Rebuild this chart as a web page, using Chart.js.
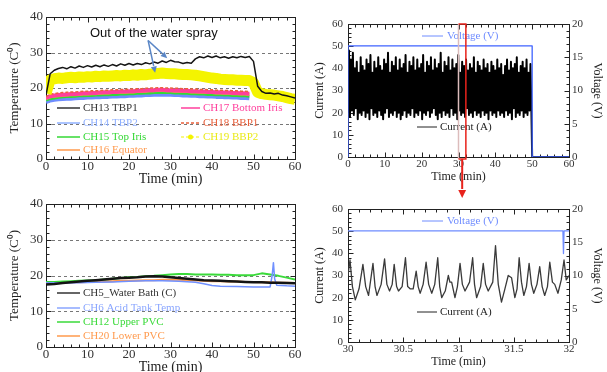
<!DOCTYPE html>
<html lang="en">
<head>
<meta charset="UTF-8">
<title>Cavity temperatures, current and voltage</title>
<script src="https://cdn.jsdelivr.net/npm/chart.js"></script>
<style>
    html, body { margin: 0; padding: 0; background: #fff; overflow: hidden; }
    body { width: 607px; height: 372px; position: relative; }
    canvas { position: absolute; }
</style>
</head>
<body>
<canvas id="tl" width="310" height="190" style="left:0;top:0;width:310px;height:190px"></canvas>
<canvas id="bl" width="310" height="190" style="left:0;top:190px;width:310px;height:190px"></canvas>
<canvas id="br" width="307" height="190" style="left:300px;top:190px;width:307px;height:190px"></canvas>
<canvas id="tr" width="307" height="205" style="left:300px;top:0;width:307px;height:205px"></canvas>

<script>
const SERIF = "'Liberation Serif', 'Times New Roman', serif";

// ---- top left: cavity temperatures, one sample per minute
const minutes = Array.from({length: 61}, (_, i) => i);
const ch13 = [18, 24, 25, 25.5, 25.8, 25.4, 26, 25.6, 26.2, 25.8, 26.3, 25.9, 26.4, 26, 26.5, 26.1, 26.6, 26.2, 26.8, 26.4,
              26.9, 26.5, 26.9, 26.6, 27.1, 26.8, 27.3, 27, 27.6, 27.2, 27.8, 27.4, 27.3, 26.9, 27.2, 27, 28.2, 28.8, 28.5, 29,
              28.6, 29, 28.5, 28.8, 28.4, 28.8, 28.5, 28.9, 28.6, 28.9, 27.5, 20.5, 19, 18.5, 18.6, 18.3, 18.5, 18, 17.8, 17.5, 17.2];
const ch19 = [18.5, 22.3, 22.6, 22.8, 22.7, 22.9, 23, 22.9, 23.1, 23, 23.2, 23.1, 23.3, 23.2, 23.4, 23.3, 23.4, 23.5, 23.4, 23.6,
              23.5, 23.7, 23.6, 23.8, 23.7, 23.9, 24, 24.1, 24.2, 24.1, 24, 24, 23.9, 23.8, 23.8, 23.7, 23.6, 23.4, 23.2, 23,
              22.8, 22.7, 22.5, 22.4, 22.3, 22.3, 22.2, 22.2, 22.1, 22.1, 21.5, 18.8, 18.4, 18.2, 18.1, 18, 17.8, 17.6, 17.3, 17, 16.8];
const ch14 = [16, 16.5, 16.7, 16.8, 16.9, 17, 17, 17.1, 17.2, 17.2, 17.3, 17.3, 17.4, 17.4, 17.5, 17.5, 17.6, 17.6, 17.7, 17.7,
              17.8, 17.8, 17.9, 17.9, 18, 18, 18.1, 18.1, 18.2, 18.1, 18.1, 18, 18, 17.9, 17.9, 17.8, 17.8, 17.7, 17.7, 17.6,
              17.6, 17.5, 17.5, 17.4, 17.4, 17.3, 17.3, 17.2, 17.2, 17.1];
const ch15 = [16.6, 17, 17.2, 17.4, 17.5, 17.6, 17.6, 17.7, 17.8, 17.8, 17.9, 17.9, 18, 18, 18.1, 18.1, 18.2, 18.2, 18.3, 18.3,
              18.4, 18.4, 18.5, 18.5, 18.6, 18.6, 18.7, 18.7, 18.8, 18.7, 18.7, 18.6, 18.6, 18.5, 18.5, 18.4, 18.4, 18.3, 18.3, 18.2,
              18.2, 18.1, 18.1, 18, 18, 17.9, 17.9, 17.8, 17.8, 17.7];
const ch16 = [17, 17.5, 17.7, 17.8, 17.9, 18, 18.1, 18.1, 18.2, 18.3, 18.3, 18.4, 18.4, 18.5, 18.6, 18.6, 18.7, 18.7, 18.8, 18.8,
              18.9, 18.9, 19, 19, 19.1, 19.2, 19.2, 19.3, 19.3, 19.2, 19.2, 19.1, 19.1, 19, 19, 18.9, 18.9, 18.8, 18.8, 18.7,
              18.7, 18.6, 18.6, 18.5, 18.5, 18.4, 18.4, 18.3, 18.3, 18.2];
const ch17 = [17.2, 17.7, 17.9, 18, 18.1, 18.2, 18.3, 18.3, 18.4, 18.5, 18.5, 18.6, 18.6, 18.7, 18.8, 18.8, 18.9, 18.9, 19, 19,
              19.1, 19.1, 19.2, 19.2, 19.3, 19.4, 19.4, 19.5, 19.5, 19.4, 19.4, 19.3, 19.3, 19.2, 19.2, 19.1, 19.1, 19, 19, 18.9,
              18.9, 18.8, 18.8, 18.7, 18.7, 18.6, 18.6, 18.5, 18.5, 18.4];
const ch18 = [17.6, 18.2, 18.4, 18.6, 18.7, 18.8, 18.9, 18.9, 19, 19.1, 19.1, 19.2, 19.2, 19.3, 19.4, 19.4, 19.5, 19.5, 19.6, 19.6,
              19.7, 19.7, 19.8, 19.8, 19.9, 20, 20, 20.1, 20.1, 20, 20, 19.9, 19.9, 19.8, 19.8, 19.7, 19.7, 19.6, 19.6, 19.5,
              19.5, 19.4, 19.4, 19.3, 19.3, 19.2, 19.2, 19.1, 19.1, 19];

// ---- bottom left: bath, tank and PVC temperatures
const bathT = [0, 2, 4, 6, 8, 10, 12, 14, 16, 18, 20, 22, 24, 26, 28, 30, 32, 34, 36, 38, 40, 42, 44, 46, 48, 50, 52, 54, 56, 58, 60];
const ch5  = [17.5, 17.6, 17.9, 18.1, 18.3, 18.5, 18.7, 18.9, 19.1, 19.3, 19.4, 19.5, 19.7, 19.8, 19.7, 19.5, 19.3, 19.1, 18.9, 18.7,
              18.6, 18.5, 18.4, 18.3, 18.2, 18.1, 18.1, 18, 18, 17.9, 17.8];
const ch12 = [18.2, 18.2, 18.3, 18.4, 18.5, 18.6, 18.7, 18.9, 19.1, 19.3, 19.5, 19.6, 19.8, 19.9, 20.1, 20.3, 20.4, 20.4, 20.3, 20.3,
              20.3, 20.2, 20.2, 20.1, 20.1, 20.1, 20.6, 20.3, 19.9, 19.4, 18.9];
const ch20 = [17.8, 17.9, 18, 18.1, 18.1, 18.2, 18.3, 18.3, 18.4, 18.5, 18.5, 18.6, 18.7, 18.7, 18.8, 18.8, 18.8, 18.7, 18.6, 18.5,
              18.4, 18.4, 18.3, 18.3, 18.2, 18.2, 18.1, 18.1, 18, 18, 17.9];
const acidT = [0, 4, 8, 12, 16, 20, 24, 28, 32, 36, 38, 40, 42, 46, 50, 54, 54.5, 54.8, 55.1, 55.6, 58, 60];
const ch6   = [18, 17.9, 18, 18.1, 18.2, 18.4, 18.5, 18.5, 18.4, 18.1, 17.7, 17.2, 17, 16.9, 16.8, 16.8, 20, 23.6, 19, 17.3, 17.1, 17];

// ---- top right: current and voltage over the whole run
const noiseA = [20, 48, 18, 44, 21, 47, 19, 40, 22, 43, 17, 38, 20, 45, 19, 41, 21, 39, 18, 44,
                20, 42, 17, 46, 22, 38, 19, 43, 20, 40, 18, 45, 21, 41, 19, 39, 17, 44, 20, 42,
                22, 47, 18, 38, 20, 43, 19, 41, 21, 45, 18, 39, 20, 44, 17, 40, 19, 42, 21, 46,
                18, 38, 20, 43, 19, 41, 22, 45, 18, 39, 20, 44, 19, 40, 21, 42, 17, 46, 20, 38,
                19, 43, 21, 41, 18, 45, 20, 39, 22, 44, 19, 40, 17, 42, 20, 47, 18, 38, 21, 43,
                19, 41, 20, 45, 18, 39, 22, 44, 19, 40, 20, 42, 17, 46, 21, 38, 19, 43, 20, 41,
                18, 44, 22, 39, 19, 42, 20, 40, 18, 45, 21, 38, 19, 43, 20, 41, 18, 39, 21, 44,
                19, 40, 20, 42, 17, 38, 21, 43, 19, 41, 20, 39, 18, 44, 21, 40, 19, 42, 20, 37,
                18, 41, 21, 44, 19, 39, 20, 43, 17, 40, 22, 42, 18, 45, 20, 38, 19, 41, 21, 43,
                18, 40, 20, 44, 19, 38, 21, 42, 20];
const noiseT = noiseA.map((_, i) => i * 49.8 / (noiseA.length - 1));
const tailT = [50, 60];
const tailA = [0, 0];
const voltT = [0, 0, 50, 50, 60];
const voltV = [0, 16.7, 16.7, 0, 0];

// ---- bottom right: zoom 30-32 min
const zoomT = [30, 30.018, 30.04, 30.066, 30.1, 30.135, 30.16, 30.186, 30.226, 30.245, 30.262, 30.3, 30.331, 30.352, 30.376, 30.4,
               30.418, 30.44, 30.457, 30.49, 30.52, 30.54, 30.562, 30.59, 30.617, 30.635, 30.653, 30.68, 30.707, 30.73, 30.758, 30.785,
               30.812, 30.83, 30.848, 30.88, 30.908, 30.922, 30.938, 30.968, 30.99, 31.014, 31.035, 31.059, 31.1, 31.128, 31.145, 31.164,
               31.2, 31.224, 31.245, 31.269, 31.31, 31.335, 31.36, 31.389, 31.42, 31.45, 31.48, 31.51, 31.53, 31.549, 31.57, 31.591,
               31.615, 31.639, 31.66, 31.681, 31.71, 31.735, 31.757, 31.78, 31.805, 31.826, 31.85, 31.871, 31.9, 31.93, 31.955, 31.975, 32];
const zoomA = [30, 37, 25, 19, 24, 35, 25, 21, 35.5, 25, 21, 26, 37.5, 26, 23, 26,
               35, 25, 23, 25, 38, 25, 24, 24, 32, 25, 22, 26, 36, 26, 22, 26,
               38, 25, 20, 23, 30, 27, 27, 20, 25, 35.5, 26, 23, 27, 38, 26, 20,
               25, 35.5, 26, 23, 27, 43.5, 26, 18, 24, 30, 29, 20, 24, 38, 27, 21,
               25, 35.5, 26, 22, 26, 34, 25, 21, 25, 36, 27, 26, 22, 28, 37, 28, 30];
const zoomVT = [30, 31.945, 31.95, 31.955, 32];
const zoomVV = [16.7, 16.7, 13.3, 16.7, 16.7];

function line(label, times, vals, color, width, dash, axis) {
    return {
        label: label,
        data: vals.map((v, i) => ({x: times[i], y: v})),
        borderColor: color,
        backgroundColor: color,
        borderWidth: width,
        borderDash: dash || [],
        borderJoinStyle: 'round',
        pointRadius: 0,
        tension: 0,
        fill: false,
        yAxisID: axis || 'y'
    };
}

function xAxis(min, max, step, c) {
    return {
        type: 'linear', position: 'bottom', min: min, max: max,
        ticks: {stepSize: step, font: {family: SERIF, size: c.tick}, color: '#333', padding: c.pad, maxRotation: 0, autoSkip: false,
                callback: v => String(Math.round(v * 10) / 10)},
        grid: {display: false, drawTicks: false},
        border: {display: false},
        title: {display: true, text: 'Time (min)', font: {family: SERIF, size: c.title}, color: '#222', padding: {top: 0, bottom: c.titlePad}},
        afterFit: s => { s.height = c.h; }
    };
}

function yAxis(pos, max, step, text, c) {
    return {
        type: 'linear', position: pos, min: 0, max: max,
        ticks: {stepSize: step, font: {family: SERIF, size: c.tick}, color: '#333', padding: c.pad, autoSkip: false},
        grid: {display: false, drawTicks: false},
        border: {display: false},
        title: {display: true, text: text, font: {family: SERIF, size: c.title}, color: '#222', padding: {top: c.titlePad, bottom: 0}},
        afterFit: s => { s.width = c.w; }
    };
}

// frame, inward ticks and dashed grid lines
const frame = {
    id: 'frame',
    beforeDatasetsDraw(chart, args, o) {
        const {ctx, chartArea: a, scales} = chart;
        ctx.save();
        if (o.grid) {
            ctx.strokeStyle = '#777';
            ctx.lineWidth = 1;
            ctx.setLineDash([3, 3]);
            o.grid.forEach(v => {
                const py = Math.round(scales.y.getPixelForValue(v)) + 0.5;
                ctx.beginPath();
                ctx.moveTo(a.left, py);
                ctx.lineTo(a.right, py);
                ctx.stroke();
            });
            ctx.setLineDash([]);
        }
        ctx.strokeStyle = '#222';
        ctx.lineWidth = 1;
        const L = Math.round(a.left) + 0.5, T = Math.round(a.top) + 0.5;
        const R = Math.round(a.right) + 0.5, B = Math.round(a.bottom) + 0.5;
        ctx.strokeRect(L, T, R - L, B - T);
        const marks = (scale, major, minor, fn) => {
            const n = Math.round((scale.max - scale.min) / minor);
            for (let i = 0; i <= n; i++) {
                const v = scale.min + i * minor;
                const r = v / major;
                const big = Math.abs(r - Math.round(r)) < 1e-6;
                fn(Math.round(scale.getPixelForValue(v)) + 0.5, big ? 5 : 3);
            }
        };
        ctx.beginPath();
        marks(scales.x, o.x[0], o.x[1], (p, l) => {
            ctx.moveTo(p, B); ctx.lineTo(p, B - l);
            ctx.moveTo(p, T); ctx.lineTo(p, T + l);
        });
        marks(scales.y, o.y[0], o.y[1], (p, l) => {
            ctx.moveTo(L, p); ctx.lineTo(L + l, p);
            if (!scales.y1) { ctx.moveTo(R, p); ctx.lineTo(R - l, p); }
        });
        if (scales.y1) {
            marks(scales.y1, o.y1[0], o.y1[1], (p, l) => { ctx.moveTo(R, p); ctx.lineTo(R - l, p); });
        }
        ctx.stroke();
        ctx.restore();
    }
};

// in-plot legend entries
const keys = {
    id: 'keys',
    afterDraw(chart, args, o) {
        const ctx = chart.ctx;
        ctx.save();
        ctx.font = o.font;
        ctx.textBaseline = 'middle';
        o.items.forEach(k => {
            const ds = chart.data.datasets[k.ds];
            const col = k.line || ds.borderColor;
            ctx.strokeStyle = col;
            ctx.lineWidth = k.w || 1.5;
            ctx.setLineDash(k.dash || []);
            ctx.beginPath();
            ctx.moveTo(k.x1, k.y);
            ctx.lineTo(k.x2, k.y);
            ctx.stroke();
            ctx.setLineDash([]);
            if (k.dot) {
                ctx.fillStyle = col;
                ctx.beginPath();
                ctx.arc((k.x1 + k.x2) / 2, k.y, 2.5, 0, Math.PI * 2);
                ctx.fill();
            }
            ctx.fillStyle = k.color || col;
            ctx.fillText(ds.label, k.tx, k.y);
        });
        ctx.restore();
    }
};

function arrow(ctx, x0, y0, x1, y1, head) {
    const ang = Math.atan2(y1 - y0, x1 - x0);
    ctx.beginPath();
    ctx.moveTo(x0, y0);
    ctx.lineTo(x1 - Math.cos(ang) * head, y1 - Math.sin(ang) * head);
    ctx.stroke();
    ctx.beginPath();
    ctx.moveTo(x1, y1);
    ctx.lineTo(x1 - head * Math.cos(ang - 0.45), y1 - head * Math.sin(ang - 0.45));
    ctx.lineTo(x1 - head * Math.cos(ang + 0.45), y1 - head * Math.sin(ang + 0.45));
    ctx.closePath();
    ctx.fill();
}

// annotations: "out of the water spray" arrows, zoom window marker
const notes = {
    id: 'notes',
    afterDraw(chart, args, o) {
        const {ctx, chartArea: a, scales: {x, y}} = chart;
        ctx.save();
        if (o.spray) {
            const s = o.spray;
            ctx.font = "13px 'Liberation Sans', Arial, sans-serif";
            ctx.fillStyle = '#111';
            ctx.textAlign = 'center';
            ctx.textBaseline = 'middle';
            ctx.fillText(s.text, x.getPixelForValue(s.at[0]), y.getPixelForValue(s.at[1]));
            ctx.strokeStyle = '#5a86c6';
            ctx.fillStyle = '#5a86c6';
            ctx.lineWidth = 1.5;
            const x0 = x.getPixelForValue(s.from[0]), y0 = y.getPixelForValue(s.from[1]);
            s.to.forEach(p => arrow(ctx, x0, y0, x.getPixelForValue(p[0]), y.getPixelForValue(p[1]), 7));
        }
        if (o.box) {
            const xl = x.getPixelForValue(o.box[0]), xr = x.getPixelForValue(o.box[1]);
            const bot = a.bottom + 2;
            ctx.lineWidth = 1.5;
            ctx.strokeStyle = '#dcbcbc';
            ctx.beginPath(); ctx.moveTo(xl, a.top); ctx.lineTo(xl, bot); ctx.stroke();
            ctx.strokeStyle = '#e8231c';
            ctx.fillStyle = '#e8231c';
            ctx.beginPath();
            ctx.moveTo(xl, a.top); ctx.lineTo(xr, a.top); ctx.lineTo(xr, bot); ctx.lineTo(xl, bot);
            ctx.stroke();
            ctx.lineWidth = 2;
            arrow(ctx, (xl + xr) / 2, bot, (xl + xr) / 2, o.tip, 9);
        }
        ctx.restore();
    }
};

const base = {responsive: false, animation: false, events: []};
const leftCfg = {tick: 13, title: 14, pad: 0, titlePad: 2};

// top left
new Chart(document.getElementById('tl'), {
    type: 'line',
    data: {datasets: [
        line('CH13 TBP1', minutes, ch13, '#151515', 1.5),
        line('CH19 BBP2', minutes, ch19, '#f4f400', 11),
        line('CH18 BBP1', minutes, ch18, '#e8603c', 1.5, [3, 2]),
        line('CH17 Bottom Iris', minutes, ch17, '#ff3f9c', 4),
        line('CH16 Equator', minutes, ch16, '#ff9a4d', 3),
        line('CH15 Top Iris', minutes, ch15, '#35d835', 3),
        line('CH14 TBP2', minutes, ch14, '#6e8cff', 4)
    ]},
    options: Object.assign({}, base, {
        layout: {padding: {top: 17, right: 15, left: 0, bottom: 0}},
        plugins: {
            legend: {display: false}, tooltip: {enabled: false},
            frame: {grid: [10, 20, 30], x: [10, 2], y: [10, 2]},
            keys: {font: '11px ' + SERIF, items: [
                {ds: 0, x1: 57, x2: 80, tx: 83, y: 108, line: '#333'},
                {ds: 6, x1: 57, x2: 80, tx: 83, y: 123, line: '#8fb0ff'},
                {ds: 5, x1: 57, x2: 80, tx: 83, y: 137},
                {ds: 4, x1: 57, x2: 80, tx: 83, y: 150},
                {ds: 3, x1: 181, x2: 200, tx: 203, y: 108},
                {ds: 2, x1: 181, x2: 200, tx: 203, y: 123, dash: [3, 2]},
                {ds: 1, x1: 181, x2: 200, tx: 203, y: 137, dash: [3, 2], dot: true, w: 1.2, color: '#eaea1a'}
            ]},
            notes: {spray: {text: 'Out of the water spray', at: [26, 35.4], from: [24.6, 33.4], to: [[29.2, 28.4], [26.3, 24.3]]}}
        },
        scales: {
            x: xAxis(0, 60, 10, Object.assign({h: 31}, leftCfg)),
            y: yAxis('left', 40, 10, 'Temperature (C\u2070)', {tick: 13, title: 13, pad: 3, titlePad: 7, w: 46})
        }
    }),
    plugins: [frame, keys, notes]
});

// bottom left
new Chart(document.getElementById('bl'), {
    type: 'line',
    data: {datasets: [
        line('CH5_Water Bath (C)', bathT, ch5, '#141414', 2.5),
        line('CH6 Acid Tank Temp', acidT, ch6, '#7090ff', 1.5),
        line('CH12 Upper PVC', bathT, ch12, '#3ada3a', 2),
        line('CH20 Lower PVC', bathT, ch20, '#ff9a4d', 2)
    ]},
    options: Object.assign({}, base, {
        layout: {padding: {top: 14, right: 15, left: 0, bottom: 0}},
        plugins: {
            legend: {display: false}, tooltip: {enabled: false},
            frame: {grid: [10, 20, 30], x: [10, 2], y: [10, 2]},
            keys: {font: '11px ' + SERIF, items: [
                {ds: 0, x1: 57, x2: 80, tx: 83, y: 103, line: '#333'},
                {ds: 1, x1: 57, x2: 80, tx: 83, y: 118, line: '#8aa6ff'},
                {ds: 2, x1: 57, x2: 80, tx: 83, y: 132},
                {ds: 3, x1: 57, x2: 80, tx: 83, y: 146}
            ]}
        },
        scales: {
            x: xAxis(0, 60, 10, {tick: 13, title: 14, pad: 0, titlePad: 4, h: 33}),
            y: yAxis('left', 40, 10, 'Temperature (C\u2070)', {tick: 13, title: 13, pad: 3, titlePad: 7, w: 46})
        }
    }),
    plugins: [frame, keys]
});

const rightY = {tick: 11, title: 12, pad: 5, titlePad: 13, w: 48};
const rightY1 = {tick: 11, title: 12, pad: 3, titlePad: 3, w: 38};

// top right; the long dash keeps Chart.js off its per-pixel fast path so the dense trace stays solid
new Chart(document.getElementById('tr'), {
    type: 'line',
    data: {datasets: [
        line('Voltage (V)', voltT, voltV, '#3f63ff', 1.3, null, 'y1'),
        line('Current (A)', noiseT.concat(tailT), noiseA.concat(tailA), '#000', 2, [100000, 1])
    ]},
    options: Object.assign({}, base, {
        layout: {padding: {top: 24, right: 0, left: 0, bottom: 15}},
        plugins: {
            legend: {display: false}, tooltip: {enabled: false},
            frame: {x: [10, 2], y: [10, 2], y1: [5, 1]},
            keys: {font: '11px ' + SERIF, items: [
                {ds: 0, x1: 122, x2: 143, tx: 147, y: 36, w: 1, line: '#6f8cff'},
                {ds: 1, x1: 117, x2: 137, tx: 140, y: 127, w: 1, line: '#222'}
            ]},
            notes: {box: [30, 32], tip: 198}
        },
        scales: {
            x: xAxis(0, 60, 10, {tick: 11, title: 12, pad: 1, titlePad: 6, h: 33}),
            y: yAxis('left', 60, 10, 'Current (A)', rightY),
            y1: yAxis('right', 20, 5, 'Voltage (V)', rightY1)
        }
    }),
    plugins: [frame, keys, notes]
});

// bottom right
new Chart(document.getElementById('br'), {
    type: 'line',
    data: {datasets: [
        line('Voltage (V)', zoomVT, zoomVV, '#6f8cff', 1.3, null, 'y1'),
        line('Current (A)', zoomT, zoomA, '#3a3a3a', 1.3)
    ]},
    options: Object.assign({}, base, {
        layout: {padding: {top: 19, right: 0, left: 0, bottom: 0}},
        plugins: {
            legend: {display: false}, tooltip: {enabled: false},
            frame: {x: [0.5, 0.1], y: [10, 2], y1: [5, 1]},
            keys: {font: '11px ' + SERIF, items: [
                {ds: 0, x1: 122, x2: 143, tx: 147, y: 31, w: 1},
                {ds: 1, x1: 117, x2: 137, tx: 140, y: 122, w: 1, line: '#222'}
            ]}
        },
        scales: {
            x: xAxis(30, 32, 0.5, {tick: 11, title: 12, pad: 1, titlePad: 11, h: 38}),
            y: yAxis('left', 60, 10, 'Current (A)', rightY),
            y1: yAxis('right', 20, 5, 'Voltage (V)', rightY1)
        }
    }),
    plugins: [frame, keys]
});
</script>
</body>
</html>
